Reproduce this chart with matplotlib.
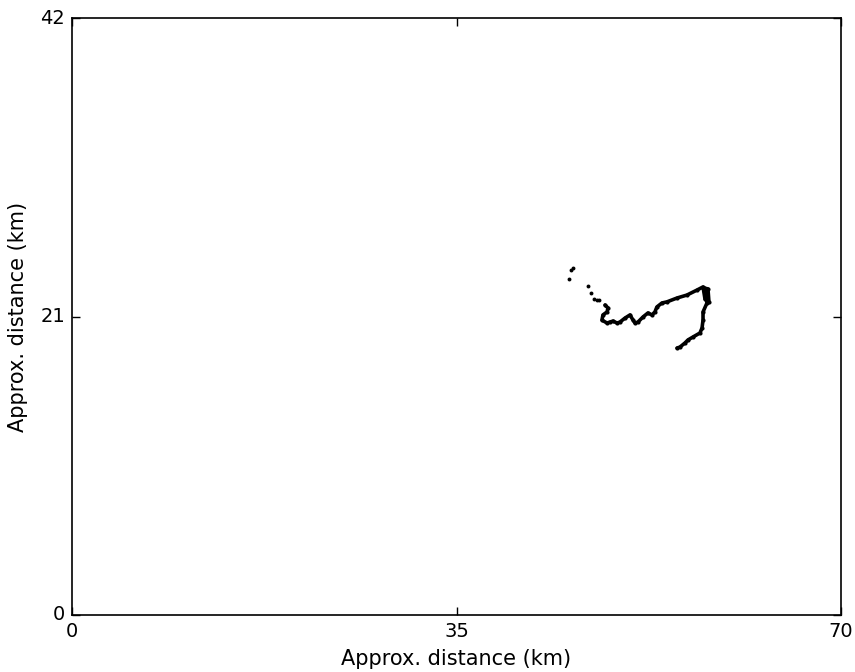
import matplotlib
matplotlib.use("Agg")
import matplotlib.pyplot as plt

plt.style.use("classic")

# sparse GPS fixes (km)
sparse_x = [45.60, 45.42, 45.24, 46.97, 47.24, 47.52, 47.79, 47.97]
sparse_y = [24.41, 24.27, 23.64, 23.15, 22.65, 22.23, 22.16, 22.16]

# dense track (km)
track_x = [48.52, 48.79, 48.70, 48.33, 48.24, 48.70, 48.97, 49.25, 49.61, 49.88,
           50.34, 50.79, 51.07, 51.25, 51.52, 51.98, 52.43, 52.79, 53.06, 53.24,
           53.70, 54.16, 55.07, 55.98, 56.89, 57.44, 57.62, 57.98, 57.89, 57.53,
           57.80, 57.44, 57.44, 57.35, 57.16, 56.53, 56.07, 55.80, 55.34, 55.07]
track_y = [21.81, 21.60, 21.32, 21.11, 20.75, 20.54, 20.61, 20.68, 20.54, 20.61,
           20.89, 21.11, 20.75, 20.54, 20.61, 20.97, 21.25, 21.11, 21.32, 21.67,
           21.95, 22.03, 22.30, 22.51, 22.86, 23.08, 22.23, 22.02, 22.94, 23.01,
           21.95, 21.32, 20.75, 20.19, 19.84, 19.56, 19.35, 19.14, 18.85, 18.78]

x_ticks = [0, 35, 70]
y_ticks = [0, 21, 42]

fig = plt.figure(figsize=(8.55, 6.72), dpi=100, facecolor="white")
ax = fig.add_axes([72/855, 57/672, 769/855, 597/672])

ax.plot(sparse_x, sparse_y, linestyle="none", marker="o", color="black",
        markersize=2.8, markeredgewidth=0)
ax.plot(track_x, track_y, color="black", linewidth=2.6, solid_joinstyle="round",
        solid_capstyle="round", marker="o", markersize=3, markeredgewidth=0)

ax.set_xlim(0, 70)
ax.set_ylim(0, 42)
ax.set_xticks(x_ticks)
ax.set_yticks(y_ticks)

tprops = dict(family="DejaVu Sans", size=14)
lprops = dict(family="DejaVu Sans", size=15)
ax.set_xticklabels([str(t) for t in x_ticks], fontdict=tprops)
ax.set_yticklabels([str(t) for t in y_ticks], fontdict=tprops)
ax.set_xlabel("Approx. distance (km)", fontdict=lprops, labelpad=6)
ax.set_ylabel("Approx. distance (km)", fontdict=lprops, labelpad=9)
ax.tick_params(direction="in", length=6, width=1, top=True, right=True, pad=5)
for s in ax.spines.values():
    s.set_linewidth(1.2)

fig.savefig("out.png", dpi=100, facecolor="white")
